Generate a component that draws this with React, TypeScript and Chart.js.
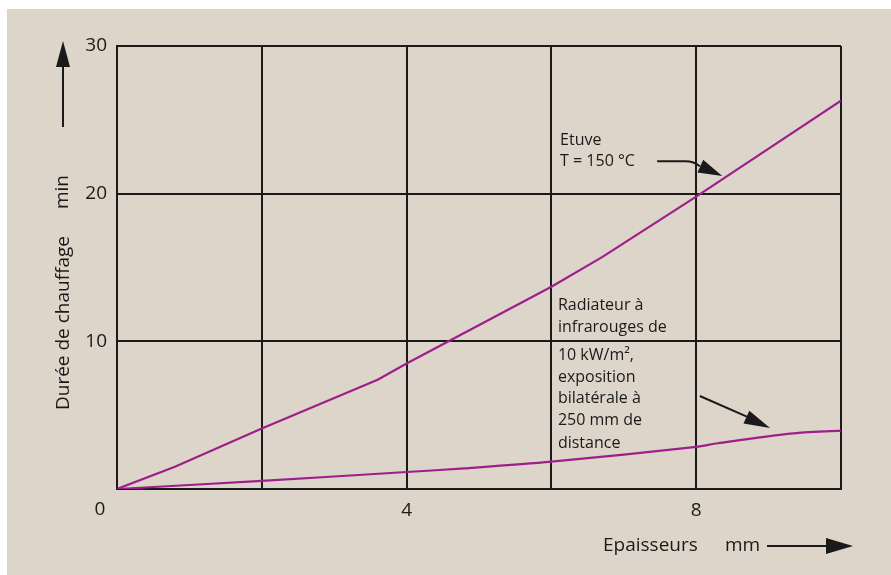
import React, { useEffect, useRef } from "react";
import { Chart, registerables } from "chart.js";

Chart.register(...registerables);

// Etuve T = 150 °C
const etuveX = [0, 0.8, 2, 3.6, 4, 6, 6.7, 8, 10];
const etuveY = [0, 1.5, 4.1, 7.4, 8.5, 13.7, 15.7, 19.8, 26.3];

// Radiateur à infrarouges
const irX = [0, 2, 4, 4.8, 6, 8, 8.3, 9.3, 10];
const irY = [0, 0.55, 1.15, 1.4, 1.85, 2.85, 3.1, 3.75, 3.95];

const xLabels = [4, 8];
const yLabels = [10, 20, 30];

const etuveText = ["Etuve", "T = 150 °C"];
const irText = [
  "Radiateur à",
  "infrarouges de",
  "10 kW/m²,",
  "exposition",
  "bilatérale à",
  "250 mm de",
  "distance",
];
const irTextY = [12.46, 10.97, 9.07, 7.58, 6.16, 4.67, 3.11];

const BG = "#ddd5c9";
const INK = "#1a1a1a";
const LINE = "#9e1f8c";
const FONT = "'Open Sans', 'Noto Sans', sans-serif";

function arrowHead(ctx: CanvasRenderingContext2D, tx: number, ty: number, fx: number, fy: number, len: number, half: number) {
  const a = Math.atan2(ty - fy, tx - fx);
  const bx = tx - len * Math.cos(a);
  const by = ty - len * Math.sin(a);
  ctx.beginPath();
  ctx.moveTo(tx, ty);
  ctx.lineTo(bx + half * Math.sin(a), by - half * Math.cos(a));
  ctx.lineTo(bx - half * Math.sin(a), by + half * Math.cos(a));
  ctx.closePath();
  ctx.fill();
}

const annot = {
  id: "annot",
  afterDraw(chart: any) {
    const ctx = chart.ctx as CanvasRenderingContext2D;
    const xs = chart.scales.x;
    const ys = chart.scales.y;
    const X = (v: number) => xs.getPixelForValue(v);
    const Y = (v: number) => ys.getPixelForValue(v);
    ctx.save();
    ctx.fillStyle = INK;
    ctx.strokeStyle = INK;

    // origin label
    ctx.font = `19px ${FONT}`;
    ctx.textAlign = "center";
    ctx.textBaseline = "middle";
    ctx.fillText("0", chart.chartArea.left - 17, chart.chartArea.bottom + 21);

    // y axis title
    ctx.save();
    ctx.translate(57, 314);
    ctx.rotate(-Math.PI / 2);
    ctx.font = `19px ${FONT}`;
    ctx.fillText("Durée de chauffage", 0, 0);
    ctx.restore();
    ctx.save();
    ctx.translate(56, 183);
    ctx.rotate(-Math.PI / 2);
    ctx.font = `19px ${FONT}`;
    ctx.fillText("min", 0, 0);
    ctx.restore();

    // y arrow
    ctx.lineWidth = 2;
    ctx.beginPath();
    ctx.moveTo(56, 118);
    ctx.lineTo(56, 50);
    ctx.stroke();
    arrowHead(ctx, 56, 32, 56, 118, 26, 7);

    // x axis title
    ctx.textAlign = "left";
    ctx.font = `19px ${FONT}`;
    ctx.fillText("Epaisseurs", 596, 537);
    ctx.fillText("mm", 718, 537);
    ctx.beginPath();
    ctx.moveTo(760, 537);
    ctx.lineTo(825, 537);
    ctx.stroke();
    arrowHead(ctx, 846, 537, 760, 537, 27, 8);

    // Etuve annotation
    ctx.font = `16px ${FONT}`;
    ctx.fillText(etuveText[0], X(6.12), Y(23.6));
    ctx.fillText(etuveText[1], X(6.12), Y(22.2));
    ctx.lineWidth = 2;
    ctx.beginPath();
    ctx.moveTo(X(7.46), Y(22.2));
    ctx.lineTo(X(7.85), Y(22.2));
    ctx.quadraticCurveTo(X(7.97), Y(22.2), X(8.05), Y(21.85));
    ctx.stroke();
    arrowHead(ctx, X(8.36), Y(21.2), X(7.9), Y(22.2), 24, 7);

    // IR annotation
    for (let i = 0; i < irText.length; i++) {
      ctx.fillText(irText[i], X(6.09), Y(irTextY[i]));
    }
    ctx.beginPath();
    ctx.moveTo(X(8.05), Y(6.3));
    ctx.lineTo(X(8.7), Y(4.9));
    ctx.stroke();
    arrowHead(ctx, X(9.02), Y(4.13), X(8.05), Y(6.3), 26, 7);

    ctx.restore();
  },
};

export default function App() {
  const ref = useRef<HTMLCanvasElement>(null);
  useEffect(() => {
    if (!ref.current) return;
    const chart = new Chart(ref.current, {
      type: "line",
      data: {
        datasets: [
          {
            label: "Etuve",
            data: etuveX.map((x, i) => ({ x, y: etuveY[i] })),
            borderColor: LINE,
            borderWidth: 2.2,
            pointRadius: 0,
            tension: 0,
          },
          {
            label: "Radiateur",
            data: irX.map((x, i) => ({ x, y: irY[i] })),
            borderColor: LINE,
            borderWidth: 2.2,
            pointRadius: 0,
            tension: 0.3,
          },
        ],
      },
      options: {
        animation: false,
        responsive: false,
        layout: { padding: { top: 37, right: 50, left: 0, bottom: 0 } },
        plugins: { legend: { display: false }, tooltip: { enabled: false } },
        scales: {
          x: {
            type: "linear",
            min: 0,
            max: 10,
            afterFit: (s: any) => {
              s.height = 86;
            },
            grid: { color: INK, lineWidth: 2, drawTicks: false },
            border: { color: INK, width: 2 },
            ticks: {
              stepSize: 2,
              padding: 10,
              color: INK,
              font: { family: FONT, size: 19 },
              callback: (v: any) => (xLabels.includes(Number(v)) ? String(v) : ""),
            },
          },
          y: {
            min: 0,
            max: 30,
            afterFit: (s: any) => {
              s.width = 110;
            },
            grid: { color: INK, lineWidth: 2, drawTicks: false },
            border: { color: INK, width: 2 },
            ticks: {
              stepSize: 10,
              padding: 10,
              color: INK,
              font: { family: FONT, size: 19 },
              callback: (v: any) => (yLabels.includes(Number(v)) ? String(v) : ""),
            },
          },
        },
      },
      plugins: [annot],
    });
    return () => chart.destroy();
  }, []);
  return (
    <div style={{ position: "absolute", left: 7, top: 9, width: 884, height: 566, background: BG }}>
      <canvas ref={ref} width={884} height={566} style={{ display: "block" }} />
    </div>
  );
}
